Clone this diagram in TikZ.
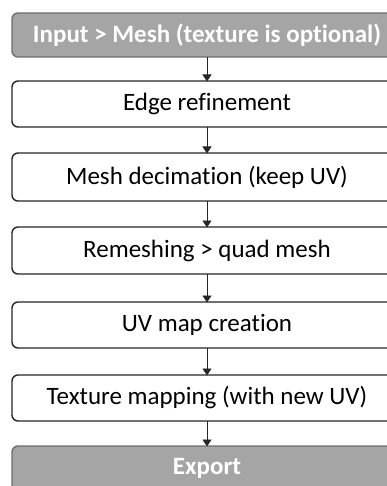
\documentclass[tikz,border=0pt]{standalone}
\usepackage{fontspec}
\setmainfont[Ligatures=NoCommon]{Carlito}
\usetikzlibrary{arrows.meta}
\definecolor{boxgray}{HTML}{A5A5A5}
\definecolor{grayline}{HTML}{6E6E6E}
\definecolor{darkline}{HTML}{262626}
\tikzset{
  whitebox/.style={draw=darkline, line width=1.4pt, rounded corners=6pt, fill=white},
  graybox/.style={draw=grayline, line width=1.4pt, rounded corners=6pt, fill=boxgray},
  lbl/.style={font=\fontsize{25}{28}\selectfont, text=black, inner sep=0pt},
  glbl/.style={font=\fontsize{25}{28}\selectfont\bfseries, text=white, inner sep=0pt},
  conn/.style={draw=darkline, line width=0.8pt, -{Triangle[length=7pt,width=9pt]}, shorten >=-0.5pt}
}
\begin{document}
\begin{tikzpicture}[x=1pt,y=-1pt]
\useasboundingbox (0,0) rectangle (387,486);
\clip (0,0) rectangle (387,486);
\fill[white] (0,0) rectangle (387,486);
% boxes
\draw[graybox]  (12,13)  rectangle (402,57);
\draw[whitebox] (12,81)  rectangle (402,127);
\draw[whitebox] (12,153) rectangle (402,201);
\draw[whitebox] (12,227) rectangle (402,274);
\draw[whitebox] (12,302) rectangle (402,348);
\draw[whitebox] (12,375) rectangle (402,421);
\draw[graybox]  (12,446) rectangle (402,500);
% anchors (named coordinates on box edges)
\coordinate (b1) at (207,57);
\coordinate (t2) at (207,81);  \coordinate (b2) at (207,127);
\coordinate (t3) at (207,153); \coordinate (b3) at (207,201);
\coordinate (t4) at (207,227); \coordinate (b4) at (207,274);
\coordinate (t5) at (207,302); \coordinate (b5) at (207,348);
\coordinate (t6) at (207,375); \coordinate (b6) at (207,421);
\coordinate (t7) at (207,446);
% labels
\node[glbl] (n1) at (207,35)  {Input > Mesh (texture is optional)};
\node[lbl]  (n2) at (207,104) {Edge refinement};
\node[lbl]  (n3) at (207,177) {Mesh decimation (keep UV)};
\node[lbl]  (n4) at (207,250.5) {Remeshing > quad mesh};
\node[lbl]  (n5) at (207,325) {UV map creation};
\node[lbl]  (n6) at (207,398) {Texture mapping (with new UV)};
\node[glbl] (n7) at (207,468) {Export};
% connectors
\draw[conn] (b1) -- (t2);
\draw[conn] (b2) -- (t3);
\draw[conn] (b3) -- (t4);
\draw[conn] (b4) -- (t5);
\draw[conn] (b5) -- (t6);
\draw[conn] (b6) -- (t7);
\end{tikzpicture}
\end{document}
